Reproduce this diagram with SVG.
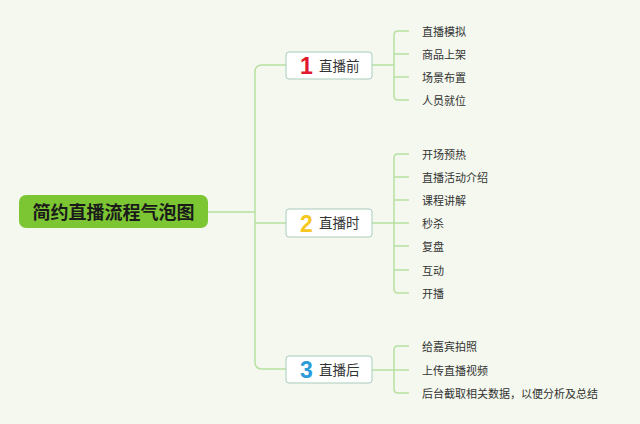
<svg xmlns="http://www.w3.org/2000/svg" width="640" height="424" viewBox="0 0 640 424">
<style>
.ln{fill:none;stroke:#b8e0a2;stroke-width:1.5}
.box{fill:#ffffff;stroke:#a9cbbd;stroke-width:1}
.num{font-family:"Liberation Sans",Arial,sans-serif;font-weight:bold;font-size:23px;text-anchor:middle}
.lbl{font-family:"Noto Sans CJK SC","Noto Sans",sans-serif;font-size:13.5px;fill:#333333}
.leaf{font-family:"Noto Sans CJK SC","Noto Sans",sans-serif;font-size:11px;fill:#333333}
.root{font-family:"Noto Sans CJK SC","Noto Sans",sans-serif;font-size:18px;font-weight:bold;fill:#1a1a1a;text-anchor:middle}
</style>
<rect width="640" height="424" fill="#f4f8ee"/>
<g id="connectors">
<path class="ln" d="M208 212H255"/>
<path class="ln" d="M286 65H262Q255 65 255 72V362Q255 369 262 369H286"/>
<path class="ln" d="M255 223H286"/>
<path class="ln" d="M372 65H394"/>
<path class="ln" d="M409 31H398Q394 31 394 35V96Q394 100 398 100H409"/>
<path class="ln" d="M394 54H409M394 77H409"/>
<path class="ln" d="M372 223H394"/>
<path class="ln" d="M409 154H398Q394 154 394 158V289Q394 293 398 293H409"/>
<path class="ln" d="M394 177H409M394 200H409M394 223H409M394 246H409M394 270H409"/>
<path class="ln" d="M372 370H394"/>
<path class="ln" d="M409 346H398Q394 346 394 350V389Q394 393 398 393H409"/>
<path class="ln" d="M394 370H409"/>
</g>
<g id="root">
<rect x="19" y="195" width="189" height="33" rx="7" fill="#7cc634"/>
<text class="root" x="113.5" y="218.5">简约直播流程气泡图</text>
</g>
<g id="node1">
<rect class="box" x="286" y="52" width="86" height="27" rx="3"/>
<text class="num" x="306.5" y="73.5" fill="#e0192d">1</text>
<text class="lbl" x="319" y="70.5">直播前</text>
</g>
<g id="node2">
<rect class="box" x="286" y="209" width="86" height="28" rx="3"/>
<text class="num" x="306.5" y="232" fill="#f5c71f">2</text>
<text class="lbl" x="319" y="228">直播时</text>
</g>
<g id="node3">
<rect class="box" x="286" y="356" width="86" height="27" rx="3"/>
<text class="num" x="306.5" y="378" fill="#2c9bd9">3</text>
<text class="lbl" x="319" y="375">直播后</text>
</g>
<g id="leaves1">
<text class="leaf" x="422" y="36">直播模拟</text>
<text class="leaf" x="422" y="59">商品上架</text>
<text class="leaf" x="422" y="82">场景布置</text>
<text class="leaf" x="422" y="105">人员就位</text>
</g>
<g id="leaves2">
<text class="leaf" x="422" y="159">开场预热</text>
<text class="leaf" x="422" y="182">直播活动介绍</text>
<text class="leaf" x="422" y="205">课程讲解</text>
<text class="leaf" x="422" y="228">秒杀</text>
<text class="leaf" x="422" y="251">复盘</text>
<text class="leaf" x="422" y="275">互动</text>
<text class="leaf" x="422" y="298">开播</text>
</g>
<g id="leaves3">
<text class="leaf" x="422" y="351">给嘉宾拍照</text>
<text class="leaf" x="422" y="375">上传直播视频</text>
<text class="leaf" x="422" y="398">后台截取相关数据，以便分析及总结</text>
</g>
</svg>
